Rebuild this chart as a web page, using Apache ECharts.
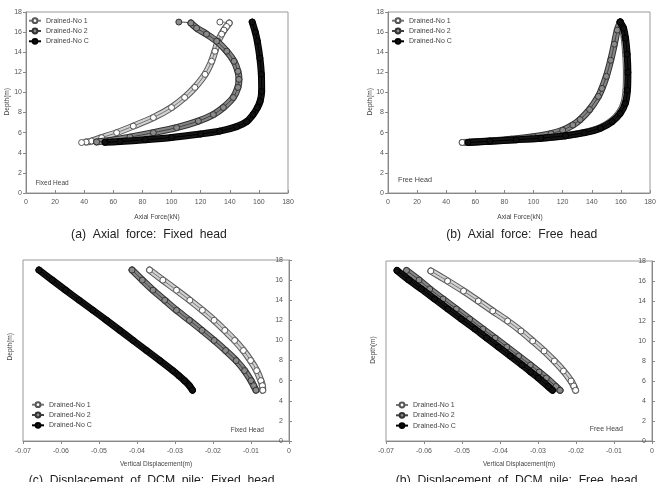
<!DOCTYPE html>
<html>
<head>
<meta charset="utf-8">
<script src="https://cdn.jsdelivr.net/npm/echarts@6/dist/echarts.min.js"></script>
<style>
  html, body { margin: 0; padding: 0; background: #fff; }
  #main { width: 663px; height: 482px; }
</style>
</head>
<body>
<div id="main"></div>
<script>
const names = ['Drained-No 1', 'Drained-No 2', 'Drained-No C'];

// axis ranges [min, max, interval]
const forceRange = [0, 180, 20];
const depthRange = [0, 18, 2];
const dispRange = [-0.07, 0, 0.01];

// (a) axial force, fixed head  [force kN, depth m]
const axFix1 = [[133.2,17.0],[139.6,16.9],[137.8,16.56],[136,16.2],[134.4,15.8],[132,15.1],[129.8,14.1],[127.5,13.1],[123,11.8],[116,10.5],[109,9.5],[100,8.5],[87.5,7.5],[73.7,6.65],[62.3,6.0],[52,5.5],[45,5.17],[41.3,5.07],[38.2,5.02]];
const axFix2 = [[105,17.0],[113.3,16.9],[117.2,16.4],[124,15.8],[131,15.1],[137.9,14.1],[142.9,13.1],[145.6,12.1],[146.3,11.3],[145.6,10.5],[142.4,9.5],[135.6,8.5],[128.7,7.8],[118.4,7.15],[103.5,6.5],[87.5,6.0],[71.4,5.56],[57.7,5.23],[48.5,5.08]];
const axFixC = [[155.4,17.0],[157.5,16.0],[158.9,15.1],[160.7,13.4],[161.7,11.8],[161.9,10.1],[160.8,9.1],[159,8.5],[156,7.8],[151.6,7.1],[144.7,6.6],[133,6.15],[120,5.87],[100,5.52],[82,5.3],[64.6,5.12],[54.3,5.04]];

// (b) axial force, free head
const axFree1 = [[159.5,17.0],[161,16.4],[162.3,15.4],[163.3,13.8],[163.8,12],[163.5,10.2],[162,8.9],[158.5,7.9],[153,7.1],[145,6.45],[134,6.0],[122,5.7],[105,5.45],[88,5.3],[70,5.15],[56,5.05],[51,5.03]];
const axFree2 = [[159.6,17.0],[157.5,16.2],[155.5,14.8],[153,13.2],[150,11.6],[147,10.4],[144.5,9.6],[138.5,8.3],[132,7.3],[127,6.76],[120,6.25],[112,5.9],[100,5.6],[85,5.35],[70,5.18],[56,5.05]];
const axFreeC = [[159.5,17.0],[161.8,16.4],[163.2,15.4],[164.3,13.8],[164.8,12],[164.5,10.2],[163,8.9],[159.5,7.9],[154,7.1],[146,6.45],[135,6.0],[122,5.7],[105,5.45],[88,5.3],[70,5.15],[55,5.03]];

// (c) vertical displacement, fixed head  [disp m, depth m]
const dispFix1 = [[-0.0367,17.0],[-0.0332,16.0],[-0.0296,15.0],[-0.0261,14.0],[-0.0228,13.0],[-0.0197,12.0],[-0.0169,11.0],[-0.0143,10.0],[-0.0120,9.0],[-0.0101,8.0],[-0.0085,7.0],[-0.0074,6.0],[-0.0070,5.5],[-0.0069,5.05]];
const dispFix2 = [[-0.0413,17.0],[-0.0386,16.0],[-0.0358,15.0],[-0.0327,14.0],[-0.0296,13.0],[-0.0262,12.0],[-0.0229,11.0],[-0.0197,10.0],[-0.0167,9.0],[-0.0139,8.0],[-0.0117,7.0],[-0.0100,6.0],[-0.0093,5.5],[-0.0087,5.05]];
const dispFixC = [[-0.0658,17.0],[-0.0623,16.0],[-0.0588,15.0],[-0.0552,14.0],[-0.0516,13.0],[-0.0480,12.0],[-0.0445,11.0],[-0.0410,10.0],[-0.0375,9.0],[-0.0340,8.0],[-0.0306,7.0],[-0.0290,6.5],[-0.0275,6.0],[-0.0262,5.5],[-0.0254,5.05]];

// (d) vertical displacement, free head
const dispFree1 = [[-0.0582,17.0],[-0.0538,16.0],[-0.0496,15.0],[-0.0457,14.0],[-0.0419,13.0],[-0.0380,12.0],[-0.0345,11.0],[-0.0314,10.0],[-0.0284,9.0],[-0.0257,8.0],[-0.0233,7.0],[-0.0213,6.0],[-0.0206,5.5],[-0.0201,5.07]];
const dispFree2 = [[-0.0646,17.05],[-0.0613,16.1],[-0.0585,15.2],[-0.0550,14.2],[-0.0515,13.2],[-0.0480,12.2],[-0.0445,11.2],[-0.0413,10.3],[-0.0382,9.4],[-0.0351,8.5],[-0.0320,7.6],[-0.0297,6.9],[-0.0278,6.3],[-0.0253,5.45],[-0.0242,5.07]];
const dispFreeC = [[-0.0671,17.05],[-0.0640,16.1],[-0.0607,15.2],[-0.0572,14.2],[-0.0537,13.2],[-0.0502,12.2],[-0.0466,11.2],[-0.0435,10.3],[-0.0404,9.4],[-0.0373,8.5],[-0.0342,7.6],[-0.0319,6.9],[-0.0299,6.3],[-0.0273,5.45],[-0.0262,5.07]];

const FONT = 'Liberation Sans';
const styles = [
  { edge: '#5a5a5a', fill: '#d2d2d2', line: '#777', dot: '#fff', dotEdge: '#555' },
  { edge: '#333', fill: '#858585', line: '#444', dot: '#8a8a8a', dotEdge: '#333' },
  { edge: '#000', fill: '#151515', line: '#000', dot: '#111', dotEdge: '#000' }
];

// one curve = dark band edge + band fill + thin line with circles
function curve(gi, k, data, from, to) {
  const s = styles[k];
  const band = data.slice(from || 0, to || data.length);
  const base = { type: 'line', xAxisIndex: gi, yAxisIndex: gi, smooth: 0.25, silent: true, animation: false };
  return [
    Object.assign({}, base, { name: 'band', data: band, symbol: 'none', z: 2 + k * 3,
      lineStyle: { color: s.edge, width: 7, cap: 'round', join: 'round' } }),
    Object.assign({}, base, { name: 'band', data: band, symbol: 'none', z: 3 + k * 3,
      lineStyle: { color: s.fill, width: 5, cap: 'round', join: 'round' } }),
    Object.assign({}, base, { name: names[k], data: data, symbol: 'circle', symbolSize: 6, showAllSymbol: true, z: 4 + k * 3,
      lineStyle: { color: s.line, width: 1 },
      itemStyle: { color: s.dot, borderColor: s.dotEdge, borderWidth: 1 } })
  ];
}

const lbl = { fontSize: 7, color: '#555', fontFamily: FONT };
const axLine = { show: true, lineStyle: { color: '#888' } };

function forceX(gi) {
  return { gridIndex: gi, type: 'value', min: forceRange[0], max: forceRange[1], interval: forceRange[2],
    axisLine: axLine, axisTick: { inside: true, length: 3, lineStyle: { color: '#888' } },
    axisLabel: Object.assign({ margin: 6 }, lbl), splitLine: { show: false } };
}
function depthY(gi, right) {
  return { gridIndex: gi, type: 'value', min: depthRange[0], max: depthRange[1], interval: depthRange[2],
    position: right ? 'right' : 'left',
    axisLine: axLine, axisTick: { length: 3, lineStyle: { color: '#888' } },
    axisLabel: Object.assign({ margin: right ? 6 : 4, inside: !!right }, lbl), splitLine: { show: false } };
}
function dispX(gi) {
  return { gridIndex: gi, type: 'value', min: dispRange[0], max: dispRange[1], interval: dispRange[2],
    axisLine: axLine, axisTick: { length: 3, lineStyle: { color: '#888' } },
    axisLabel: Object.assign({ margin: 7, formatter: v => Math.abs(v) < 1e-9 ? '0' : v.toFixed(2) }, lbl),
    splitLine: { show: false } };
}
function legendAt(left, top) {
  return { left: left, top: top, orient: 'vertical', padding: 0, itemWidth: 12, itemHeight: 6, itemGap: 3.3,
    selectedMode: false, data: names, textStyle: { fontSize: 7, color: '#444', fontFamily: FONT } };
}
function txt(x, y, s, size, extra) {
  return Object.assign({ type: 'text', x: x, y: y, silent: true,
    style: { text: s, fontSize: size, fontFamily: FONT, fill: '#444', align: 'center', verticalAlign: 'middle' } }, extra || {});
}
function caption(x, y, s) {
  return { type: 'text', x: x, y: y, silent: true,
    style: { text: s, fontSize: 12.2, fontFamily: FONT, fill: '#222', align: 'center', verticalAlign: 'middle' } };
}
const gridBase = { show: true, borderColor: '#999', borderWidth: 1, containLabel: false };

const chart = echarts.init(document.getElementById('main'), null, { renderer: 'canvas' });
chart.setOption({
  animation: false,
  backgroundColor: '#fff',
  grid: [
    Object.assign({ left: 26, top: 12, width: 262, height: 181 }, gridBase),
    Object.assign({ left: 388, top: 12, width: 262, height: 181 }, gridBase),
    Object.assign({ left: 23, top: 260, width: 266, height: 181 }, gridBase),
    Object.assign({ left: 386, top: 261, width: 266, height: 180 }, gridBase)
  ],
  xAxis: [forceX(0), forceX(1), dispX(2), dispX(3)],
  yAxis: [depthY(0), depthY(1), depthY(2, true), depthY(3, true)],
  legend: [legendAt(28, 17.2), legendAt(391, 17.2), legendAt(31, 401.2), legendAt(395, 401.5)],
  series: [].concat(
    curve(0, 0, axFix1, 1, axFix1.length - 1), curve(0, 1, axFix2, 1), curve(0, 2, axFixC),
    curve(1, 0, axFree1), curve(1, 1, axFree2), curve(1, 2, axFreeC),
    curve(2, 0, dispFix1), curve(2, 1, dispFix2), curve(2, 2, dispFixC),
    curve(3, 0, dispFree1), curve(3, 1, dispFree2), curve(3, 2, dispFreeC)
  ),
  graphic: [
    txt(157, 217.3, 'Axial Force(kN)', 6.6),
    txt(520, 217.3, 'Axial Force(kN)', 6.6),
    txt(156, 464.3, 'Vertical Displacement(m)', 6.5),
    txt(519, 464.3, 'Vertical Displacement(m)', 6.5),
    txt(6.7, 101.7, 'Depth(m)', 6.6, { rotation: Math.PI / 2 }),
    txt(370, 101.7, 'Depth(m)', 6.6, { rotation: Math.PI / 2 }),
    txt(10, 346.7, 'Depth(m)', 6.6, { rotation: Math.PI / 2 }),
    txt(373.3, 350, 'Depth(m)', 6.6, { rotation: Math.PI / 2 }),
    txt(52, 183.3, 'Fixed Head', 6.5),
    txt(415, 180, 'Free Head', 7.2),
    txt(247.3, 430, 'Fixed Head', 6.5),
    txt(606.3, 428.7, 'Free Head', 7),
    caption(149, 234.8, '(a)  Axial  force:  Fixed  head'),
    caption(521.7, 234.8, '(b)  Axial  force:  Free  head'),
    caption(151.7, 481, '(c)  Displacement  of  DCM  pile:  Fixed  head'),
    caption(516.7, 481, '(b)  Displacement  of  DCM  pile:  Free  head')
  ]
});
</script>
</body>
</html>
